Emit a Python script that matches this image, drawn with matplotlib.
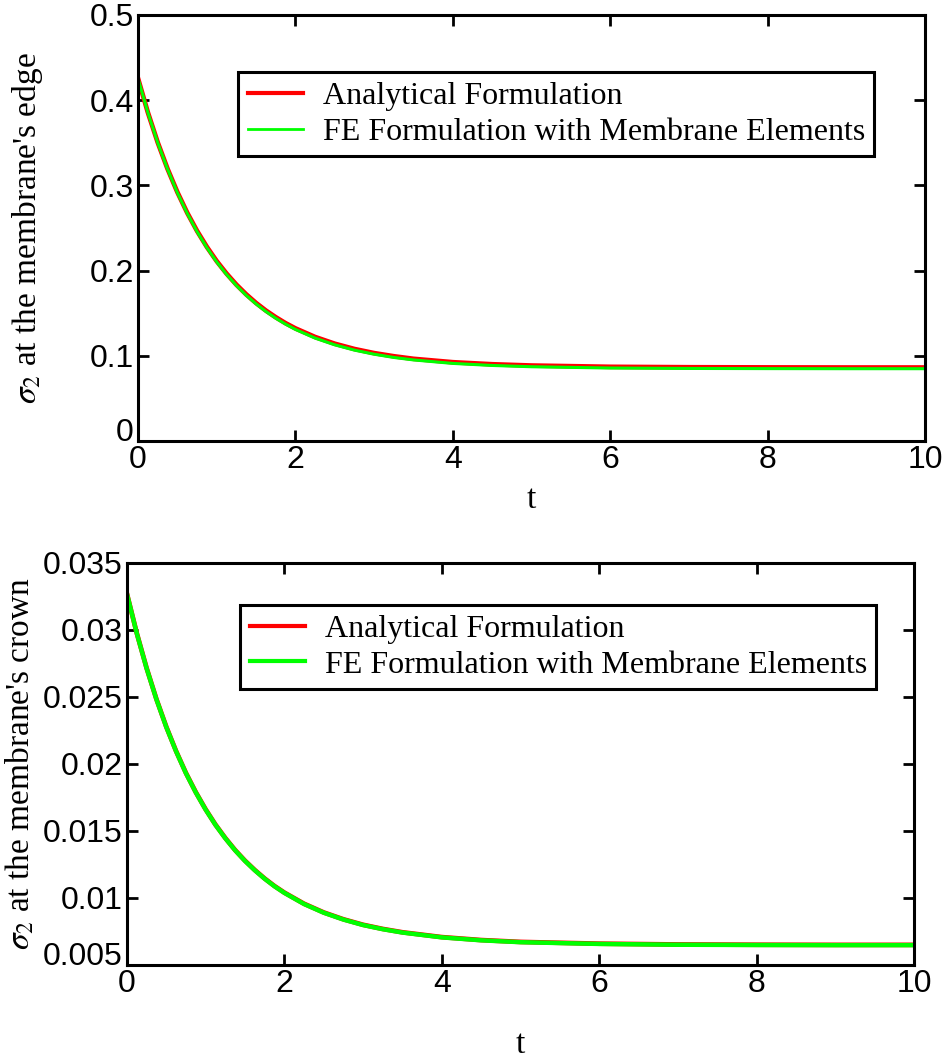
import matplotlib
matplotlib.use('Agg')
import matplotlib.pyplot as plt
import matplotlib.transforms as mtransforms

plt.rcParams['mathtext.fontset'] = 'stix'

# time samples
t = [0, 0.125, 0.25, 0.375, 0.5, 0.625, 0.75, 0.875, 1.0, 1.125, 1.25,
     1.375, 1.5, 1.625, 1.75, 1.875, 2.0, 2.25, 2.5, 2.75, 3.0, 3.25, 3.5,
     4.0, 4.5, 5.0, 6.0, 7.0, 8.0, 9.0, 10.0]

# stress at the membrane edge
edge_analytical = [0.4255, 0.3856, 0.3504, 0.3194, 0.2920, 0.2678, 0.2465,
                   0.2277, 0.2110, 0.1964, 0.1834, 0.1720, 0.1619, 0.1530,
                   0.1452, 0.1382, 0.1321, 0.1220, 0.1141, 0.1079, 0.1031,
                   0.0994, 0.0964, 0.0924, 0.0900, 0.0885, 0.0870, 0.0865,
                   0.0863, 0.0862, 0.0862]
edge_fe = [0.4255, 0.3855, 0.3501, 0.3190, 0.2914, 0.2672, 0.2457, 0.2268,
           0.2101, 0.1954, 0.1824, 0.1709, 0.1608, 0.1519, 0.1440, 0.1371,
           0.1309, 0.1207, 0.1128, 0.1066, 0.1018, 0.0980, 0.0951, 0.0910,
           0.0886, 0.0871, 0.0856, 0.0851, 0.0849, 0.0848, 0.0848]

# stress at the membrane crown
crown_analytical = [0.0327, 0.02976, 0.02715, 0.02483, 0.02277, 0.02095,
                    0.01932, 0.01789, 0.01661, 0.01547, 0.01447, 0.01357,
                    0.01278, 0.01208, 0.01145, 0.01089, 0.0104, 0.00957,
                    0.00892, 0.00841, 0.0080, 0.00769, 0.00744, 0.00708,
                    0.00686, 0.00672, 0.00659, 0.00653, 0.00651, 0.0065,
                    0.0065]
crown_fe = [0.0327, 0.02974, 0.02713, 0.02481, 0.02275, 0.02093, 0.0193,
            0.01787, 0.01659, 0.01545, 0.01445, 0.01355, 0.01276, 0.01206,
            0.01143, 0.01087, 0.01038, 0.00955, 0.0089, 0.00839, 0.00798,
            0.00767, 0.00742, 0.00706, 0.00684, 0.0067, 0.00657, 0.00651,
            0.00649, 0.00648, 0.00648]

labels = ['Analytical Formulation', 'FE Formulation with Membrane Elements']
tick_font = 'Liberation Sans'
text_font = 'Liberation Serif'

fig = plt.figure(figsize=(9.46, 10.61), dpi=100)
ax1 = fig.add_axes([0.1459, 0.5844, 0.832, 0.4015])
ax2 = fig.add_axes([0.1342, 0.0905, 0.832, 0.3789])


def style_axes(ax, ylabel, ylab_x, xlab_y):
    for s in ax.spines.values():
        s.set_linewidth(2.2)
    ax.tick_params(direction='in', length=8, width=2, top=True, right=True,
                   labelsize=23, pad=3)
    for lab in ax.get_xticklabels() + ax.get_yticklabels():
        lab.set_fontfamily(tick_font)
    # lift the lowest y tick label a little off the x tick labels
    shift = mtransforms.ScaledTranslation(0, 8 / 72, fig.dpi_scale_trans)
    first = ax.get_yticklabels()[0]
    first.set_transform(first.get_transform() + shift)
    ax.set_xlabel('t', fontsize=24, family=text_font)
    ax.xaxis.set_label_coords(0.5, xlab_y)
    ax.xaxis.label.set_va('center')
    ax.set_ylabel(ylabel, fontsize=24, family=text_font)
    ax.yaxis.set_label_coords(ylab_x, 0.5)
    ax.yaxis.label.set_va('center')


def add_legend(ax, anchor, widths):
    leg = ax.legend(loc='upper left', bbox_to_anchor=anchor,
                    prop={'family': text_font, 'size': 23}, fancybox=False,
                    framealpha=1, edgecolor='black', handlelength=1.75,
                    handletextpad=0.6, borderpad=0.3, labelspacing=0.2,
                    borderaxespad=0)
    leg.get_frame().set_linewidth(2.2)
    for ln, w in zip(leg.get_lines(), widths):
        ln.set_linewidth(w)


ax1.plot(t, edge_analytical, color='red', lw=3.4, label=labels[0])
ax1.plot(t, edge_fe, color='#00ff00', lw=2.2, label=labels[1])
ax1.set_xlim(0, 10)
ax1.set_ylim(0, 0.5)
ax1.set_xticks([0, 2, 4, 6, 8, 10])
ax1.set_yticks([0, 0.1, 0.2, 0.3, 0.4, 0.5])
ax1.set_yticklabels(['0', '0.1', '0.2', '0.3', '0.4', '0.5'])
style_axes(ax1, r"$\sigma_2$ at the membrane's edge", -0.14, -0.1385)
add_legend(ax1, (0.127, 0.866), [3, 2])

ax2.plot(t, crown_analytical, color='red', lw=3.4, label=labels[0])
ax2.plot(t, crown_fe, color='#00ff00', lw=3.2, label=labels[1])
ax2.set_xlim(0, 10)
ax2.set_ylim(0.005, 0.035)
ax2.set_xticks([0, 2, 4, 6, 8, 10])
ax2.set_yticks([0.005, 0.01, 0.015, 0.02, 0.025, 0.03, 0.035])
ax2.set_yticklabels(['0.005', '0.01', '0.015', '0.02', '0.025', '0.03',
                     '0.035'])
style_axes(ax2, r"$\sigma_2$ at the membrane's crown", -0.135, -0.199)
add_legend(ax2, (0.1436, 0.8955), [3, 3])

fig.savefig('out.png', dpi=100)
